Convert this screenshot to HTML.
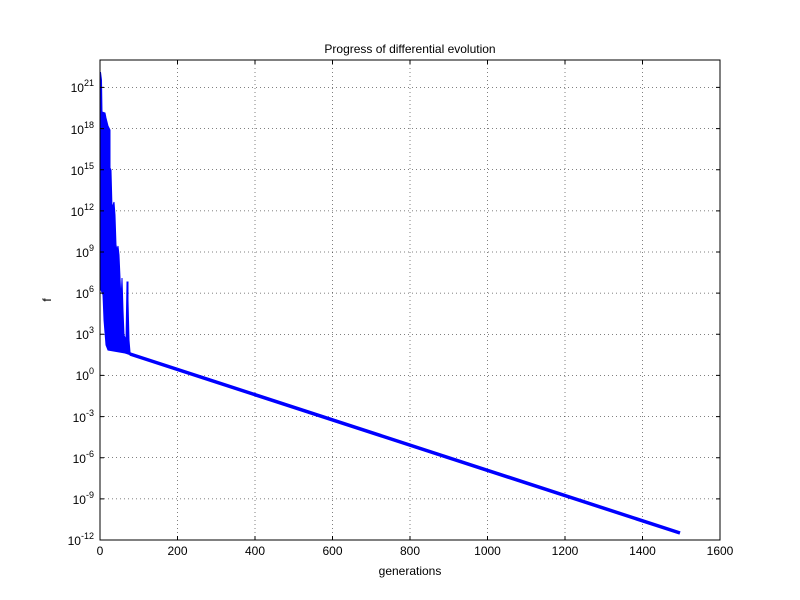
<!DOCTYPE html>
<html><head><style>body{margin:0;background:#fff}svg{display:block}text{font-family:"Liberation Sans","DejaVu Sans",sans-serif;font-size:12px}</style></head><body>
<svg width="800" height="600" viewBox="0 0 800 600">
<rect width="800" height="600" fill="#fff"/>
<g stroke="#000" stroke-width="0.5" stroke-dasharray="1,3">
<line x1="177.5" y1="60" x2="177.5" y2="540"/><line x1="255" y1="60" x2="255" y2="540"/><line x1="332.5" y1="60" x2="332.5" y2="540"/><line x1="410" y1="60" x2="410" y2="540"/><line x1="487.5" y1="60" x2="487.5" y2="540"/><line x1="565" y1="60" x2="565" y2="540"/><line x1="642.5" y1="60" x2="642.5" y2="540"/>
<line x1="100" y1="498.9" x2="720" y2="498.9"/><line x1="100" y1="457.7" x2="720" y2="457.7"/><line x1="100" y1="416.6" x2="720" y2="416.6"/><line x1="100" y1="375.4" x2="720" y2="375.4"/><line x1="100" y1="334.3" x2="720" y2="334.3"/><line x1="100" y1="293.1" x2="720" y2="293.1"/><line x1="100" y1="252" x2="720" y2="252"/><line x1="100" y1="210.9" x2="720" y2="210.9"/><line x1="100" y1="169.7" x2="720" y2="169.7"/><line x1="100" y1="128.6" x2="720" y2="128.6"/><line x1="100" y1="87.4" x2="720" y2="87.4"/>
</g>
<polygon fill="#0000ff" stroke="#0000ff" stroke-width="1" points="100.5,72 101.5,80 102,112 105,113 106,118 108,126 110,130 110,168 111,170 112,208 114,202 115,215 116,245 117,250 118,246 119,255 121,300 122,278 123,310 124,335 126,340 127,282 128,282 128,300 129,340 130,352 131,355 125,353 108,350 106,345 104,320 103,295 101,290 100.5,290"/>
<line x1="130" y1="354" x2="680" y2="533" stroke="#0000ff" stroke-width="3.5"/>
<rect x="100" y="60" width="620" height="480" fill="none" stroke="#000" stroke-width="1"/>
<g stroke="#000" stroke-width="1">
<path d="M177.5 540v-4M255 540v-4M332.5 540v-4M410 540v-4M487.5 540v-4M565 540v-4M642.5 540v-4M177.5 60v4M255 60v4M332.5 60v4M410 60v4M487.5 60v4M565 60v4M642.5 60v4"/>
<path d="M100 498.9h4M100 457.7h4M100 416.6h4M100 375.4h4M100 334.3h4M100 293.1h4M100 252h4M100 210.9h4M100 169.7h4M100 128.6h4M100 87.4h4M720 498.9h-4M720 457.7h-4M720 416.6h-4M720 375.4h-4M720 334.3h-4M720 293.1h-4M720 252h-4M720 210.9h-4M720 169.7h-4M720 128.6h-4M720 87.4h-4"/>
</g>
<g text-anchor="middle">
<text x="100" y="555">0</text><text x="177.5" y="555">200</text><text x="255" y="555">400</text><text x="332.5" y="555">600</text><text x="410" y="555">800</text><text x="487.5" y="555">1000</text><text x="565" y="555">1200</text><text x="642.5" y="555">1400</text><text x="720" y="555">1600</text>
<text x="410" y="575">generations</text>
<text x="410" y="53" font-size="13">Progress of differential evolution</text>
</g>
<g text-anchor="end">
<text x="94" y="545">10<tspan dy="-6" font-size="9">-12</tspan></text>
<text x="94" y="504">10<tspan dy="-6" font-size="9">-9</tspan></text>
<text x="94" y="463">10<tspan dy="-6" font-size="9">-6</tspan></text>
<text x="94" y="422">10<tspan dy="-6" font-size="9">-3</tspan></text>
<text x="94" y="380">10<tspan dy="-6" font-size="9">0</tspan></text>
<text x="94" y="339">10<tspan dy="-6" font-size="9">3</tspan></text>
<text x="94" y="298">10<tspan dy="-6" font-size="9">6</tspan></text>
<text x="94" y="257">10<tspan dy="-6" font-size="9">9</tspan></text>
<text x="94" y="216">10<tspan dy="-6" font-size="9">12</tspan></text>
<text x="94" y="175">10<tspan dy="-6" font-size="9">15</tspan></text>
<text x="94" y="134">10<tspan dy="-6" font-size="9">18</tspan></text>
<text x="94" y="92">10<tspan dy="-6" font-size="9">21</tspan></text>
</g>
<text x="51" y="300" text-anchor="middle" transform="rotate(-90 51 300)">f</text>
</svg>
</body></html>
